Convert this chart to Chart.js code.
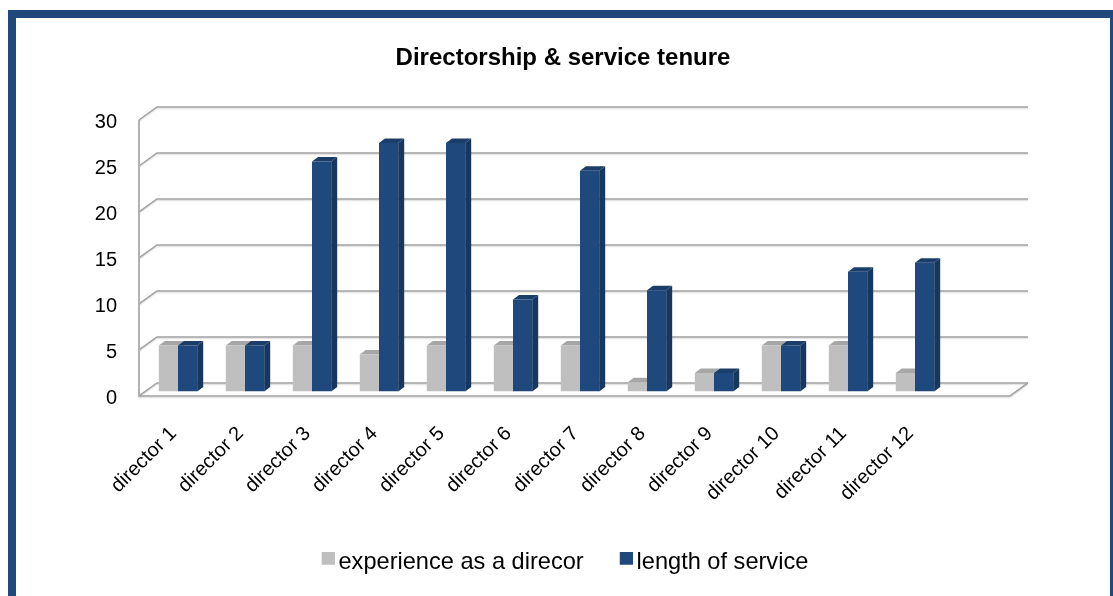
<!DOCTYPE html>
<html>
<head>
<meta charset="utf-8">
<script src="https://cdn.jsdelivr.net/npm/chart.js@4"></script>
<style>
  html, body { margin: 0; background: #fff; }
  #wrap { position: relative; width: 1113px; height: 596px; }
</style>
</head>
<body>
<div id="wrap"><canvas id="chart" width="1113" height="596"></canvas></div>
<script>
var directors = ["director 1", "director 2", "director 3", "director 4", "director 5", "director 6",
    "director 7", "director 8", "director 9", "director 10", "director 11", "director 12", ""];
var experience = [5, 5, 5, 4, 5, 5, 5, 1, 2, 5, 5, 2, null];
var service = [5, 5, 25, 27, 27, 10, 24, 11, 2, 5, 13, 14, null];

var GREY = "#BFBFBF", GREY_TOP = "#A6A6A6", GREY_SIDE = "#A6A6A6";
var NAVY = "#1F497D", NAVY_TOP = "#1A3D6A", NAVY_SIDE = "#17375E";

// legend swatch: the square sits in the top right corner so it comes closer to the text and higher up
function swatch(color) {
    var cv = document.createElement("canvas");
    cv.width = 21;
    cv.height = 21;
    var c = cv.getContext("2d");
    c.fillStyle = color;
    c.fillRect(8, 0, 13, 13);
    return cv;
}

// the plot is a flat chart with a fake 3d box drawn around the bars
var box3d = {
    id: "box3d",
    afterLayout: function(chart) {
        chart.legend.left += 2;
        chart.legend.right += 2;
    },
    beforeDatasetsDraw: function(chart) {
        var c = chart.ctx, y = chart.scales.y, area = chart.chartArea;
        var frontDx = -5.5, frontDy = 4.5, backDx = 12.5, backDy = -8.5;

        function gridline(pts, color, width) {
            c.beginPath();
            c.moveTo(pts[0][0], pts[0][1]);
            for (var i = 1; i < pts.length; i++) c.lineTo(pts[i][0], pts[i][1]);
            c.strokeStyle = color;
            c.lineWidth = width;
            c.stroke();
        }
        function both(pts) {
            gridline(pts.map(function(p) { return [p[0], p[1] + 1.5]; }), "#E6E6E6", 1.5);
            gridline(pts, "#A0A0A0", 1.5);
        }

        c.save();
        y.ticks.forEach(function(t) {
            var py = y.getPixelForValue(t.value);
            both([[area.left + frontDx, py + frontDy], [area.left + backDx, py + backDy], [area.right + backDx, py + backDy]]);
        });
        var bottom = y.getPixelForValue(0), top = y.getPixelForValue(30);
        both([[area.left + frontDx, top + frontDy], [area.left + frontDx, bottom + frontDy],
            [area.right + frontDx, bottom + frontDy], [area.right + backDx, bottom + backDy]]);

        function poly(pts, fill) {
            c.beginPath();
            c.moveTo(pts[0][0], pts[0][1]);
            for (var i = 1; i < pts.length; i++) c.lineTo(pts[i][0], pts[i][1]);
            c.closePath();
            c.fillStyle = fill;
            c.fill();
        }
        var colors = [[GREY_TOP, GREY_SIDE], [NAVY_TOP, NAVY_SIDE]];
        [0, 1].forEach(function(ds) {
            var values = chart.data.datasets[ds].data;
            chart.getDatasetMeta(ds).data.forEach(function(bar, i) {
                if (values[i] === null) return;
                var l = bar.x - bar.width / 2, r = bar.x + bar.width / 2, d = 6, u = 4.5;
                poly([[l, bar.y], [l + d, bar.y - u], [r + d, bar.y - u], [r, bar.y]], colors[ds][0]);
                poly([[r, bar.y], [r + d, bar.y - u], [r + d, bar.base - u], [r, bar.base]], colors[ds][1]);
            });
        });
        c.restore();
    },
    beforeDraw: function(chart) {
        // navy frame round the whole picture
        var c = chart.ctx;
        c.save();
        c.fillStyle = NAVY;
        c.fillRect(8, 10, 8, 586);
        c.fillRect(8, 10, 1105, 8);
        c.fillRect(1110, 10, 3, 586);
        c.restore();
    }
};

new Chart(document.getElementById("chart"), {
    type: "bar",
    data: {
        labels: directors,
        datasets: [
            { label: "experience as a direcor", data: experience, backgroundColor: GREY, categoryPercentage: 0.573, barPercentage: 1 },
            { label: "length of service", data: service, backgroundColor: NAVY, categoryPercentage: 0.573, barPercentage: 1 }
        ]
    },
    plugins: [box3d],
    options: {
        responsive: false,
        animation: false,
        layout: { padding: { top: 44, left: 13, right: 0, bottom: 12 } },
        plugins: {
            title: {
                display: true,
                text: "Directorship & service tenure",
                color: "#000",
                font: { family: "Liberation Sans", size: 24, weight: "bold" },
                padding: { top: 0, bottom: 42.7 }
            },
            legend: {
                position: "bottom",
                labels: {
                    color: "#000",
                    font: { family: "Liberation Sans", size: 23.6 },
                    usePointStyle: true,
                    pointStyleWidth: 5,
                    boxHeight: 13,
                    padding: 36,
                    generateLabels: function(chart) {
                        return Chart.defaults.plugins.legend.labels.generateLabels(chart).map(function(item) {
                            item.pointStyle = swatch(item.fillStyle);
                            return item;
                        });
                    }
                }
            },
            tooltip: { enabled: false }
        },
        scales: {
            x: {
                grid: { display: false },
                border: { display: false },
                ticks: {
                    color: "#000",
                    font: { family: "Liberation Sans", size: 20 },
                    minRotation: 45,
                    maxRotation: 45,
                    autoSkip: false,
                    padding: 22.5,
                    labelOffset: -4.5
                },
                afterFit: function(s) { s.height = 123; }
            },
            y: {
                min: 0,
                max: 30,
                grid: { display: false },
                border: { display: false },
                ticks: {
                    color: "#000",
                    stepSize: 5,
                    font: { family: "Liberation Sans", size: 20 },
                    padding: 19.5,
                    labelOffset: 7
                },
                afterFit: function(s) { s.width = 131.5; }
            },
            pad: {
                position: "right",
                grid: { display: false },
                border: { display: false },
                ticks: { display: false },
                afterFit: function(s) { s.width = 97.5; }
            }
        }
    }
});
</script>
</body>
</html>
